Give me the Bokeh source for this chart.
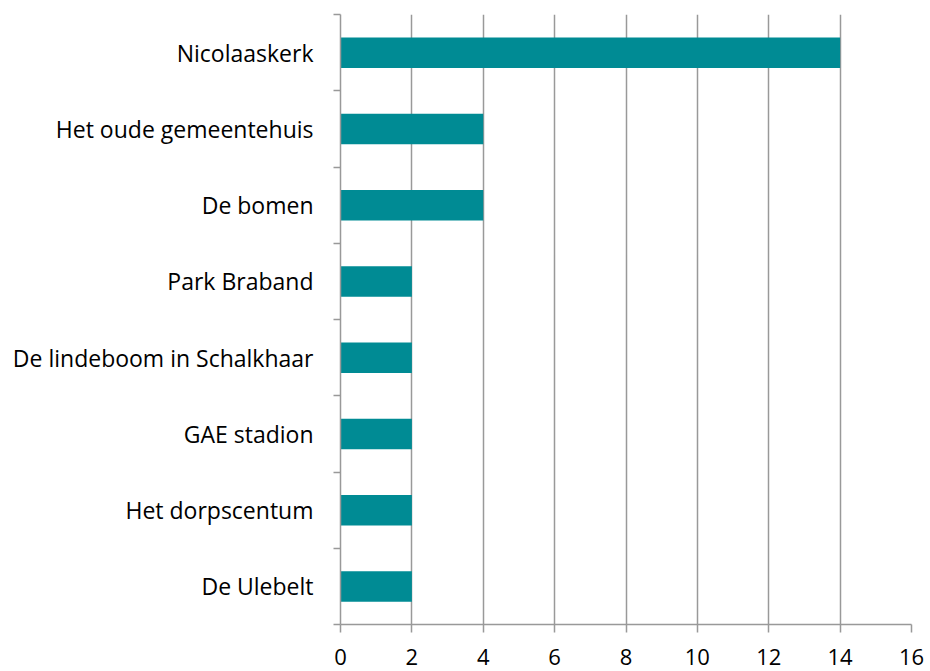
from bokeh.plotting import figure
from bokeh.models import FixedTicker, Range1d, LinearAxis, ColumnDataSource
from bokeh.embed import file_html
from bokeh.resources import INLINE

categories = ["Nicolaaskerk", "Het oude gemeentehuis", "De bomen", "Park Braband",
              "De lindeboom in Schalkhaar", "GAE stadion", "Het dorpscentum", "De Ulebelt"]
values = [14, 4, 4, 2, 2, 2, 2, 2]
x_ticks = [0, 2, 4, 6, 8, 10, 12, 14, 16]

n = len(categories)
centers = [n - i - 0.5 for i in range(n)]
bounds = list(range(n + 1))

src = ColumnDataSource(dict(y=centers, v=values, cat=categories))

GRAY = "#999999"
FONT = "Open Sans"

p = figure(width=930, height=671, x_range=Range1d(0, 16), y_range=Range1d(0, n),
           output_backend="svg", toolbar_location=None,
           x_axis_location=None, y_axis_location=None,
           min_border_left=340, min_border_right=19, min_border_top=14, min_border_bottom=47)
p.outline_line_color = None
p.background_fill_color = "white"

p.hbar(y="y", left=0, right="v", height=0.4, source=src,
       fill_color="#008B94", line_color=None)

xa = LinearAxis(ticker=FixedTicker(ticks=x_ticks))
xa.axis_line_color = GRAY
xa.axis_line_width = 1.5
xa.major_tick_line_color = GRAY
xa.major_tick_line_width = 1.5
xa.major_tick_in = 0
xa.major_tick_out = 8
xa.minor_tick_line_color = None
xa.major_label_text_font = FONT
xa.major_label_text_font_size = "22px"
xa.major_label_text_color = "black"
xa.major_label_standoff = 16
p.add_layout(xa, "below")

ya = LinearAxis(ticker=FixedTicker(ticks=centers, minor_ticks=bounds))
ya.major_label_overrides = {c: lab for c, lab in zip(centers, categories)}
ya.axis_line_color = GRAY
ya.axis_line_width = 1.5
ya.major_tick_line_color = None
ya.major_tick_in = 0
ya.major_tick_out = 0
ya.minor_tick_line_color = GRAY
ya.minor_tick_line_width = 1.5
ya.minor_tick_in = 0
ya.minor_tick_out = 7
ya.major_label_text_font = FONT
ya.major_label_text_font_size = "23px"
ya.major_label_text_color = "black"
ya.major_label_standoff = 20
p.add_layout(ya, "left")

p.xgrid.ticker = FixedTicker(ticks=x_ticks)
p.xgrid.grid_line_color = GRAY
p.xgrid.grid_line_width = 1.5
p.ygrid.visible = False

open("out.html", "w").write(file_html(p, INLINE))
